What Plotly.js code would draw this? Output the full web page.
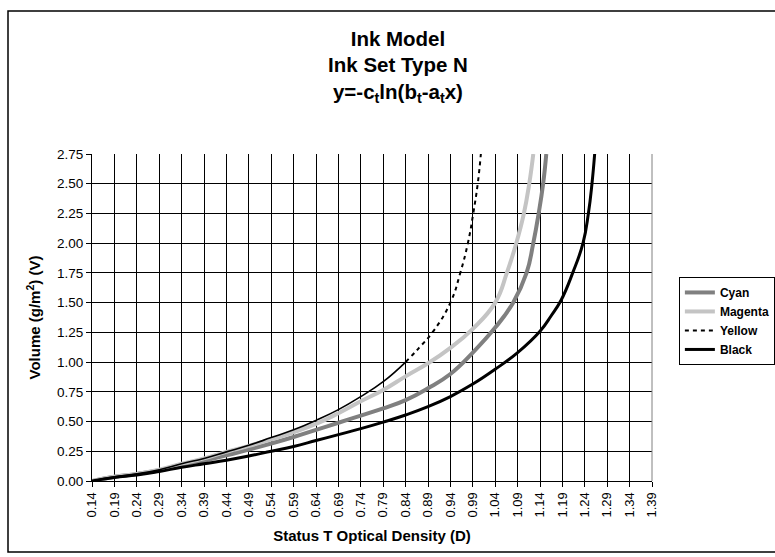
<!DOCTYPE html>
<html>
<head>
<meta charset="utf-8">
<script src="https://cdn.plot.ly/plotly-3.0.1.min.js"></script>
<style>html,body{margin:0;padding:0;background:#fff;}#chart{width:775px;height:557px;}</style>
</head>
<body>
<div id="chart"></div>
<script>
// Status T optical density (D) and ink volume (V)
const cyanD = [0.14,0.19,0.24,0.29,0.34,0.39,0.44,0.49,0.54,0.59,0.64,0.69,0.74,0.79,0.84,0.89,0.94,0.99,1.04,1.08,1.11,1.125,1.137,1.147,1.154];
const cyanV = [0,0.035,0.06,0.09,0.13,0.17,0.215,0.265,0.315,0.37,0.43,0.49,0.55,0.61,0.68,0.78,0.90,1.08,1.29,1.50,1.75,2.00,2.25,2.50,2.75];

const magentaD = [0.14,0.19,0.24,0.29,0.34,0.39,0.44,0.49,0.54,0.59,0.64,0.69,0.74,0.79,0.84,0.89,0.94,0.99,1.04,1.066,1.087,1.104,1.116,1.125];
const magentaV = [0,0.035,0.06,0.095,0.145,0.19,0.245,0.295,0.35,0.41,0.48,0.57,0.67,0.765,0.88,0.99,1.12,1.28,1.50,1.75,2.00,2.25,2.50,2.75];

const yellowD = [0.14,0.19,0.24,0.29,0.34,0.39,0.44,0.49,0.54,0.59,0.64,0.69,0.74,0.79,0.84,0.87,0.90,0.94,0.962,0.979,0.991,1.001,1.008];
const yellowV = [0,0.035,0.06,0.095,0.145,0.19,0.245,0.30,0.365,0.43,0.51,0.60,0.71,0.835,1.00,1.12,1.25,1.50,1.75,2.00,2.25,2.50,2.75];

const blackD = [0.14,0.19,0.24,0.29,0.34,0.39,0.44,0.49,0.54,0.59,0.64,0.69,0.74,0.79,0.84,0.89,0.94,0.99,1.04,1.09,1.14,1.165,1.187,1.213,1.236,1.248,1.256,1.262];
const blackV = [0,0.03,0.05,0.08,0.115,0.145,0.175,0.21,0.25,0.29,0.34,0.39,0.44,0.495,0.555,0.625,0.71,0.815,0.94,1.08,1.26,1.39,1.52,1.75,2.00,2.25,2.50,2.75];

const seriesNames = ["Cyan","Magenta","Yellow","Black"];
const yellowSolidEnd = 15; // index where the drawn yellow line turns visibly dashed

const SM = 1.3;
const traces = [
  {x: cyanD, y: cyanV, name: seriesNames[0], mode: "lines",
   line: {color: "#808080", width: 4, shape: "spline", smoothing: SM}},
  {x: magentaD, y: magentaV, name: seriesNames[1], mode: "lines",
   line: {color: "#c4c4c4", width: 4, shape: "spline", smoothing: SM}},
  {x: yellowD.slice(0, yellowSolidEnd), y: yellowV.slice(0, yellowSolidEnd), name: seriesNames[2],
   mode: "lines", showlegend: false, legendgroup: "y",
   line: {color: "#000", width: 1.6, shape: "spline", smoothing: SM}},
  {x: yellowD.slice(yellowSolidEnd - 1), y: yellowV.slice(yellowSolidEnd - 1), name: seriesNames[2],
   mode: "lines", legendgroup: "y",
   line: {color: "#000", width: 2, dash: "4px,4px", shape: "spline", smoothing: SM}},
  {x: blackD, y: blackV, name: seriesNames[3], mode: "lines",
   line: {color: "#000", width: 3, shape: "spline", smoothing: SM}}
];

const FONT = "Liberation Sans, Arial, sans-serif";
const layout = {
  width: 775, height: 557,
  margin: {l: 92, r: 123, t: 154, b: 76, autoexpand: false},
  paper_bgcolor: "#fff", plot_bgcolor: "#fff",
  font: {family: FONT, color: "#000"},
  title: {
    text: "<b>Ink Model<br>Ink Set Type N<br>y=-c<sub>t</sub>ln(b<sub>t</sub>-a<sub>t</sub>x)</b>",
    font: {size: 20.5, color: "#000", family: FONT},
    x: 0.5135, xanchor: "center", y: 0.918, yanchor: "top"
  },
  xaxis: {
    range: [0.14, 1.39], tick0: 0.14, dtick: 0.05, tickformat: ".2f",
    tickangle: -90, tickfont: {size: 13},
    showgrid: true, gridcolor: "#000", gridwidth: 1,
    showline: true, linecolor: "#000", linewidth: 1,
    ticks: "outside", ticklen: 5, tickcolor: "#000",
    zeroline: false, fixedrange: true, automargin: false,
    title: {text: "<b>Status T Optical Density (D)</b>", font: {size: 15}, standoff: 13}
  },
  yaxis: {
    range: [0, 2.75], tick0: 0, dtick: 0.25, tickformat: ".2f",
    tickfont: {size: 13.5},
    showgrid: true, gridcolor: "#000", gridwidth: 1,
    showline: true, linecolor: "#000", linewidth: 1,
    ticks: "outside", ticklen: 5, tickcolor: "#000",
    zeroline: false, fixedrange: true, automargin: false,
    title: {text: "<b>Volume (g/m<sup>2</sup>) (V)</b>", font: {size: 15}, standoff: 12}
  },
  legend: {
    x: 1.048, xanchor: "left", y: 0.624, yanchor: "top",
    bgcolor: "#fff", bordercolor: "#000", borderwidth: 1,
    font: {size: 12, color: "#000", family: FONT, weight: "bold"},
    tracegroupgap: 0
  },
  shapes: [
    {type: "rect", xref: "paper", yref: "paper", x0: -0.150, x1: 1.35, y0: -0.217, y1: 1.437,
     line: {color: "#000", width: 1.5}, fillcolor: "rgba(0,0,0,0)", layer: "below"},
    {type: "line", xref: "paper", yref: "paper", x0: 1, x1: 1, y0: 0, y1: 1,
     line: {color: "#808080", width: 1}}
  ],
  showlegend: true
};

Plotly.newPlot("chart", traces, layout, {displayModeBar: false, staticPlot: true});
</script>
</body>
</html>
